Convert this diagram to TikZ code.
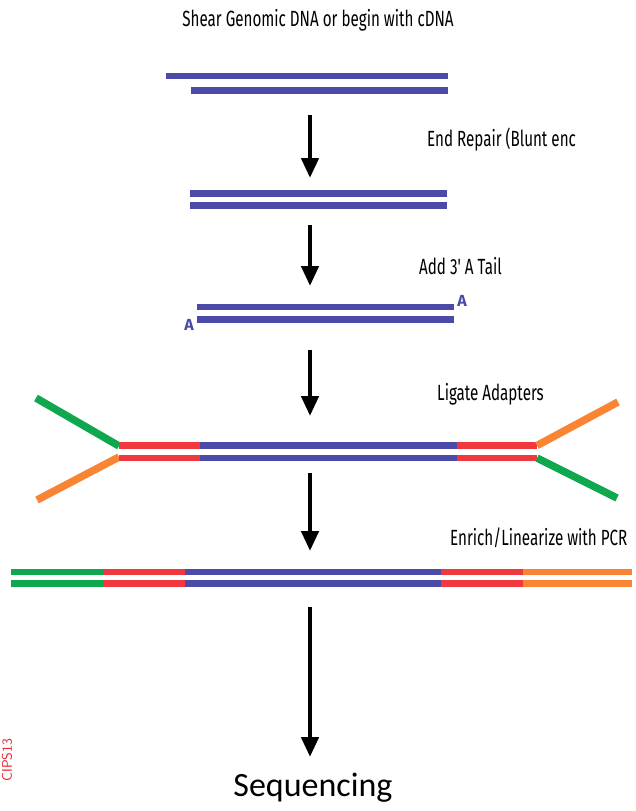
\documentclass[tikz,border=0pt]{standalone}
\usepackage{fontspec}
\usetikzlibrary{arrows.meta}
\newfontfamily\condfont[FakeStretch=0.69]{Fira Sans}
\newfontfamily\seqfont{Carlito}
\newfontfamily\afont{Fira Sans Bold}
\definecolor{dnablue}{HTML}{4B4AA6}
\definecolor{adred}{HTML}{F2383F}
\definecolor{adgreen}{HTML}{0FA84E}
\definecolor{adorange}{HTML}{F98534}
\definecolor{markred}{HTML}{E8202A}
\tikzset{
  strand/.style={line width=6.5pt},
  arm/.style={line width=7.5pt},
  steparrow/.style={line width=4.5pt,-{Triangle[width=17pt,length=20pt]}},
  label/.style={font=\condfont\fontsize{22}{24}\selectfont,anchor=west,inner sep=0pt},
  tailA/.style={font=\afont\fontsize{16}{17}\selectfont,text=dnablue,inner sep=0pt}
}
\begin{document}
\begin{tikzpicture}[x=1pt,y=-1pt]
\useasboundingbox (0,0) rectangle (635,811);
% title
\node[font=\condfont\fontsize{22}{24}\selectfont,inner sep=0pt] (title) at (318,20) {Shear Genomic DNA or begin with cDNA};
% strand 1
\draw[strand,dnablue] (166,76) coordinate (s1a) -- (448,76) coordinate (s1b);
\draw[strand,dnablue] (191,90.5) coordinate (s1c) -- (448,90.5) coordinate (s1d);
% arrow 1
\coordinate (a1s) at (310,115); \coordinate (a1e) at (310,178);
\draw[steparrow] (a1s) -- (a1e);
\node[label] (l1) at (427,140) {End Repair (Blunt enc};
% strand 2
\draw[strand,dnablue] (190,193.5) coordinate (s2a) -- (447,193.5) coordinate (s2b);
\draw[strand,dnablue] (190,205.5) coordinate (s2c) -- (447,205.5) coordinate (s2d);
% arrow 2
\coordinate (a2s) at (310,225); \coordinate (a2e) at (310,286);
\draw[steparrow] (a2s) -- (a2e);
\node[label] (l2) at (419,266) {Add 3' A Tail};
% strand 3
\draw[strand,dnablue] (197,307) coordinate (s3a) -- (454,307) coordinate (s3b);
\draw[strand,dnablue] (197,319.5) coordinate (s3c) -- (454,319.5) coordinate (s3d);
\node[tailA] (A1) at (462,301) {A};
\node[tailA] (A2) at (189,325) {A};
% arrow 3
\coordinate (a3s) at (310,350); \coordinate (a3e) at (310,416);
\draw[steparrow] (a3s) -- (a3e);
\node[label] (l3) at (437,394) {Ligate Adapters};
% strand 4
\draw[arm,adgreen] (36,398) coordinate (g1) -- (119,446) coordinate (j1);
\draw[arm,adorange] (37,500) coordinate (o1) -- (119,457) coordinate (j2);
\draw[strand,adred] (119,445.5) -- (200,445.5) coordinate (r1);
\draw[strand,adred] (119,458) -- (200,458) coordinate (r2);
\draw[strand,dnablue] (r1) -- (457,445.5) coordinate (r3);
\draw[strand,dnablue] (r2) -- (457,458) coordinate (r4);
\draw[strand,adred] (r3) -- (537,445.5) coordinate (j3);
\draw[strand,adred] (r4) -- (537,458) coordinate (j4);
\draw[arm,adorange] (j3) -- (618,402) coordinate (o2);
\draw[arm,adgreen] (j4) -- (617,498) coordinate (g2);
% arrow 4
\coordinate (a4s) at (310,473); \coordinate (a4e) at (310,551);
\draw[steparrow] (a4s) -- (a4e);
\node[label] (l4) at (450,538) {Enrich/Linearize with PCR};
% strand 5
\foreach \yy in {572,583.5}{
  \draw[strand,adgreen] (11,\yy) -- (103,\yy);
  \draw[strand,adred] (103,\yy) -- (185,\yy);
  \draw[strand,dnablue] (185,\yy) -- (441,\yy);
  \draw[strand,adred] (441,\yy) -- (523,\yy);
  \draw[strand,adorange] (523,\yy) -- (632,\yy);
}
% final
\node[font=\seqfont\fontsize{34}{36}\selectfont,inner sep=0pt] (seq) at (313,788) {Sequencing};
\coordinate (a5s) at (310,607);
\coordinate (a5e) at (310,757);
\draw[steparrow] (a5s) -- (a5e);
\node[font=\sffamily\fontsize{14}{15}\selectfont,text=markred,rotate=90,inner sep=0pt] (mark) at (7,760) {CIPS13};
\end{tikzpicture}
\end{document}
